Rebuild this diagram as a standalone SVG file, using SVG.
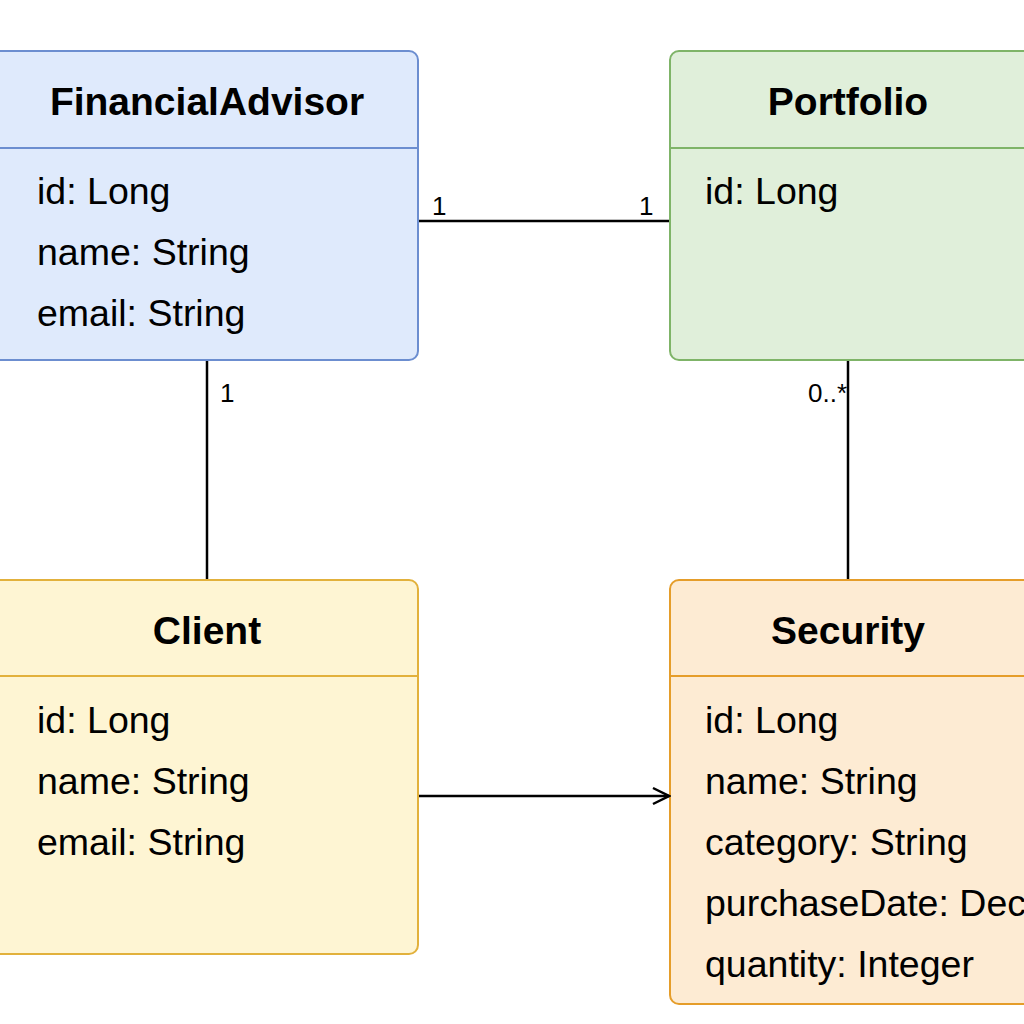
<svg xmlns="http://www.w3.org/2000/svg" width="1024" height="1024" viewBox="0 0 1024 1024">
<style>
.box{stroke-width:2}
.title{font-family:"Liberation Sans",Arial,sans-serif;font-weight:bold;font-size:39px;fill:#000;text-anchor:middle}
.attr{font-family:"Liberation Sans",Arial,sans-serif;font-size:37.5px;fill:#000}
.lbl{font-family:"Liberation Sans",Arial,sans-serif;font-size:26px;fill:#000}
.conn{stroke:#000;stroke-width:2.5;fill:none}
</style>
<defs>
<marker id="open" viewBox="0 0 20 20" refX="18" refY="10" markerWidth="20" markerHeight="20" markerUnits="userSpaceOnUse" orient="auto">
<path d="M2,2 L18,10 L2,18" fill="none" stroke="#000" stroke-width="2.5"/>
</marker>
</defs>
<rect width="1024" height="1024" fill="#fff"/>
<g id="FinancialAdvisor">
<rect class="box" x="-12" y="51" width="430" height="309" rx="9" fill="#dfeafc" stroke="#6c8ed0"/>
<line x1="-12" y1="148" x2="418" y2="148" stroke="#6c8ed0" stroke-width="2"/>
<text class="title" x="207" y="115">FinancialAdvisor</text>
<text class="attr" x="37" y="204">id: Long</text>
<text class="attr" x="37" y="265">name: String</text>
<text class="attr" x="37" y="326">email: String</text>
</g>
<g id="Portfolio">
<rect class="box" x="670" y="51" width="370" height="309" rx="9" fill="#e0efda" stroke="#7fb468"/>
<line x1="670" y1="148" x2="1040" y2="148" stroke="#7fb468" stroke-width="2"/>
<text class="title" x="848" y="115">Portfolio</text>
<text class="attr" x="705" y="204">id: Long</text>
</g>
<g id="Client">
<rect class="box" x="-12" y="580" width="430" height="374" rx="9" fill="#fef5d3" stroke="#e2b13c"/>
<line x1="-12" y1="676" x2="418" y2="676" stroke="#e2b13c" stroke-width="2"/>
<text class="title" x="207" y="644">Client</text>
<text class="attr" x="37" y="733">id: Long</text>
<text class="attr" x="37" y="794">name: String</text>
<text class="attr" x="37" y="855">email: String</text>
</g>
<g id="Security">
<rect class="box" x="670" y="580" width="370" height="424" rx="9" fill="#fdebd3" stroke="#e59d2a"/>
<line x1="670" y1="676" x2="1040" y2="676" stroke="#e59d2a" stroke-width="2"/>
<text class="title" x="848" y="644">Security</text>
<text class="attr" x="705" y="733">id: Long</text>
<text class="attr" x="705" y="794">name: String</text>
<text class="attr" x="705" y="855">category: String</text>
<text class="attr" x="705" y="916">purchaseDate: Decimal</text>
<text class="attr" x="705" y="977">quantity: Integer</text>
</g>
<g id="connectors">
<line class="conn" x1="419" y1="221" x2="669" y2="221"/>
<text class="lbl" x="432" y="215">1</text>
<text class="lbl" x="639" y="215">1</text>
<line class="conn" x1="207" y1="361" x2="207" y2="579"/>
<text class="lbl" x="220" y="402">1</text>
<line class="conn" x1="848" y1="361" x2="848" y2="579"/>
<text class="lbl" x="847" y="402" text-anchor="end">0..*</text>
<line class="conn" x1="419" y1="796" x2="669" y2="796" marker-end="url(#open)"/>
</g>
</svg>
